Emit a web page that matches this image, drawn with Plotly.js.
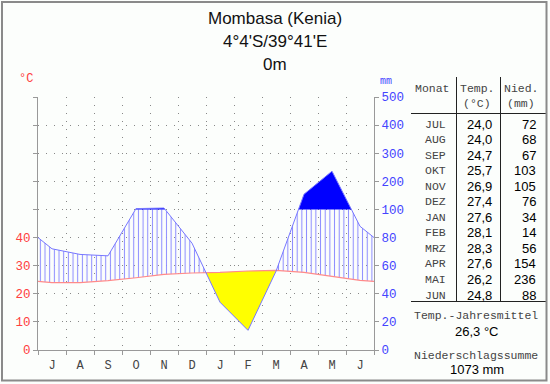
<!DOCTYPE html>
<html><head><meta charset="utf-8">
<script src="https://cdn.plot.ly/plotly-3.0.1.min.js"></script>
<style>html,body{margin:0;padding:0;background:#fcfefc}</style>
</head><body>
<div id="chart" style="width:550px;height:384px"></div>
<script>
// ---- data ----
const monthNames = ['JUL','AUG','SEP','OKT','NOV','DEZ','JAN','FEB','MRZ','APR','MAI','JUN'];
const monthInitials = ['J','A','S','O','N','D','J','F','M','A','M','J'];
const temp = [24.0,24.0,24.7,25.7,26.9,27.4,27.6,28.1,28.3,27.6,26.2,24.8];
const prec = [72,68,67,103,105,76,34,14,56,154,236,88];
const titleLines = ['Mombasa (Kenia)', "4°4'S/39°41'E", '0m'];
const tempTickText = ['0','10','20','30','40','','','','',''];
const precTickText = ['0','20','40','60','80','100','200','300','400','500'];

// ---- Walter-Lieth scale: precipitation to °C-equivalent ----
const tr = p => p <= 100 ? p / 2 : 50 + (p - 100) / 10;

const centers = monthNames.map((_, i) => i + 0.5);
const edgeT = (temp[11] + temp[0]) / 2;
const edgeP = (tr(prec[11]) + tr(prec[0])) / 2;
const xs0 = [0, ...centers, 12];
const T0 = [edgeT, ...temp, edgeT];
const P0 = [edgeP, ...prec.map(tr), edgeP];

// merged grid with crossing points (P=T, P=50)
const X = [], T = [], P = [];
for (let i = 0; i < xs0.length - 1; i++) {
  X.push(xs0[i]); T.push(T0[i]); P.push(P0[i]);
  const ts = [];
  const f0 = P0[i] - T0[i], f1 = P0[i+1] - T0[i+1];
  if (f0 * f1 < 0) ts.push(f0 / (f0 - f1));
  const g0 = P0[i] - 50, g1 = P0[i+1] - 50;
  if (g0 * g1 < 0) ts.push(g0 / (g0 - g1));
  ts.sort((a, b) => a - b);
  for (const t of ts) {
    X.push(xs0[i] + t * (xs0[i+1] - xs0[i]));
    T.push(T0[i] + t * (T0[i+1] - T0[i]));
    P.push(P0[i] + t * (P0[i+1] - P0[i]));
  }
}
X.push(xs0[xs0.length-1]); T.push(T0[T0.length-1]); P.push(P0[P0.length-1]);

const yDry = P.map((p, i) => Math.min(p, T[i]));
const yWet = P.map((p, i) => Math.max(Math.min(p, 50), T[i]));
const yTop = P.map(p => Math.max(p, 50));
const y50 = P.map(() => 50);

const none = {width: 0};
const traces = [
  {x: X, y: T, mode: 'lines', line: none, hoverinfo: 'skip'},
  {x: X, y: yDry, mode: 'lines', line: none, fill: 'tonexty', fillcolor: '#ffff00', hoverinfo: 'skip'},
  {x: X, y: T, mode: 'lines', line: none, hoverinfo: 'skip'},
  {x: X, y: yWet, mode: 'lines', line: none, fill: 'tonexty', fillcolor: 'rgba(0,0,0,0)',
   fillpattern: {shape: '|', fgcolor: '#8c8cff', bgcolor: 'rgba(0,0,0,0)', size: 4.67, solidity: 0.22},
   hoverinfo: 'skip'},
  {x: X, y: y50, mode: 'lines', line: none, hoverinfo: 'skip'},
  {x: X, y: yTop, mode: 'lines', line: none, fill: 'tonexty', fillcolor: '#0000ff', hoverinfo: 'skip'},
  {x: xs0, y: P0, mode: 'lines', line: {color: '#7777ff', width: 1}, yaxis: 'y2'},
  {x: xs0, y: T0, mode: 'lines', line: {color: '#ff8a8a', width: 1.2}}
];

// ---- pixel helpers ----
const L = 38, R = 374, TOP = 97, BOT = 350;
const px = x => (x - L) / (R - L);
const py = y => (BOT - y) / (BOT - TOP);

const mono = 'Liberation Mono, Courier New, monospace';
const sans = 'Liberation Sans, Arial, sans-serif';
const ann = [];
const A = (text, x, y, opts) => ann.push(Object.assign({text, x: px(x), y: py(y), xref: 'paper', yref: 'paper',
  showarrow: false, xanchor: 'center', yanchor: 'middle', font: {family: sans, size: 13, color: '#000'}}, opts || {}));

titleLines.forEach((t, i) => A(t, 275, [18, 42, 64][i], {font: {family: sans, size: 17, color: '#111'}}));
A('°C', 26, 79, {font: {family: mono, size: 12, color: '#ff4040'}});
A('mm', 386, 82, {font: {family: mono, size: 10, color: '#4444ff'}});

// table
const gray = '#444';
A('Monat', 432, 88, {font: {family: mono, size: 11.5, color: gray}});
A('Temp.', 477, 88, {font: {family: mono, size: 11.5, color: gray}});
A('(°C)', 477, 103, {font: {family: mono, size: 11.5, color: gray}});
A('Nied.', 521, 88, {font: {family: mono, size: 11.5, color: gray}});
A('(mm)', 521, 103, {font: {family: mono, size: 11.5, color: gray}});
monthNames.forEach((m, i) => {
  const y = 124 + i * 15.55;
  A(m, 448, y, {xanchor: 'right', font: {family: mono, size: 11.5, color: gray}});
  A(temp[i].toFixed(1).replace('.', ','), 494, y, {xanchor: 'right'});
  A(String(prec[i]), 538, y, {xanchor: 'right'});
});
const meanT = temp.reduce((a, b) => a + b, 0) / temp.length;
const sumP = prec.reduce((a, b) => a + b, 0);
A('Temp.-Jahresmittel', 476, 315, {font: {family: mono, size: 11.5, color: gray}});
A(meanT.toFixed(1).replace('.', ',') + ' °C', 477, 331);
A('Niederschlagssumme', 476, 355, {font: {family: mono, size: 11.5, color: gray}});
A(sumP + ' mm', 477, 369);

const shapes = [];
const lineS = (x0, y0, x1, y1, color, w) => shapes.push({type: 'line', xref: 'paper', yref: 'paper',
  x0: px(x0), y0: py(y0), x1: px(x1), y1: py(y1), line: {color, width: w}});
lineS(456.5, 77, 456.5, 301, '#222', 1);
lineS(500.5, 77, 500.5, 301, '#222', 1);
lineS(411, 113.5, 546, 113.5, '#222', 1);
lineS(411, 301.5, 546, 301.5, '#222', 1);
shapes.push({type: 'rect', xref: 'paper', yref: 'paper', x0: px(2), x1: px(546.5), y0: py(2), y1: py(380.5),
  line: {color: '#8a8a8a', width: 2}});

const gridTicks = tempTickText.map((_, i) => i * 10);
const layout = {
  width: 550, height: 384,
  margin: {l: L, r: 550 - R, t: TOP, b: 384 - BOT, pad: 0},
  paper_bgcolor: '#fcfefc', plot_bgcolor: '#fcfefc',
  showlegend: false,
  xaxis: {range: [0, 12], tickvals: monthInitials.map((_, i) => i).concat([12]),
    ticktext: monthInitials.concat(['']), ticklabelshift: 14,
    showgrid: true, gridcolor: '#888', griddash: '1px,7px', gridwidth: 1,
    showline: true, linecolor: '#999', linewidth: 1, zeroline: false,
    ticks: 'outside', ticklen: 4, tickcolor: '#999',
    tickfont: {family: mono, size: 12, color: '#444'}, fixedrange: true},
  yaxis: {range: [0, 90], tickvals: gridTicks, ticktext: tempTickText,
    showgrid: true, gridcolor: '#888', griddash: '1px,7px', gridwidth: 1,
    showline: true, linecolor: '#999', linewidth: 1, zeroline: false,
    ticks: 'outside', ticklen: 4, tickcolor: '#999',
    tickfont: {family: mono, size: 12.5, color: '#ff4040'}, fixedrange: true},
  yaxis2: {range: [0, 90], overlaying: 'y', side: 'right', tickvals: gridTicks, ticktext: precTickText,
    showgrid: false, showline: true, linecolor: '#999', linewidth: 1, zeroline: false,
    ticks: 'outside', ticklen: 4, tickcolor: '#999',
    tickfont: {family: mono, size: 12.5, color: '#4444ff'}, fixedrange: true},
  annotations: ann, shapes: shapes
};
Plotly.newPlot('chart', traces, layout, {displayModeBar: false, staticPlot: true});
</script>
</body></html>
